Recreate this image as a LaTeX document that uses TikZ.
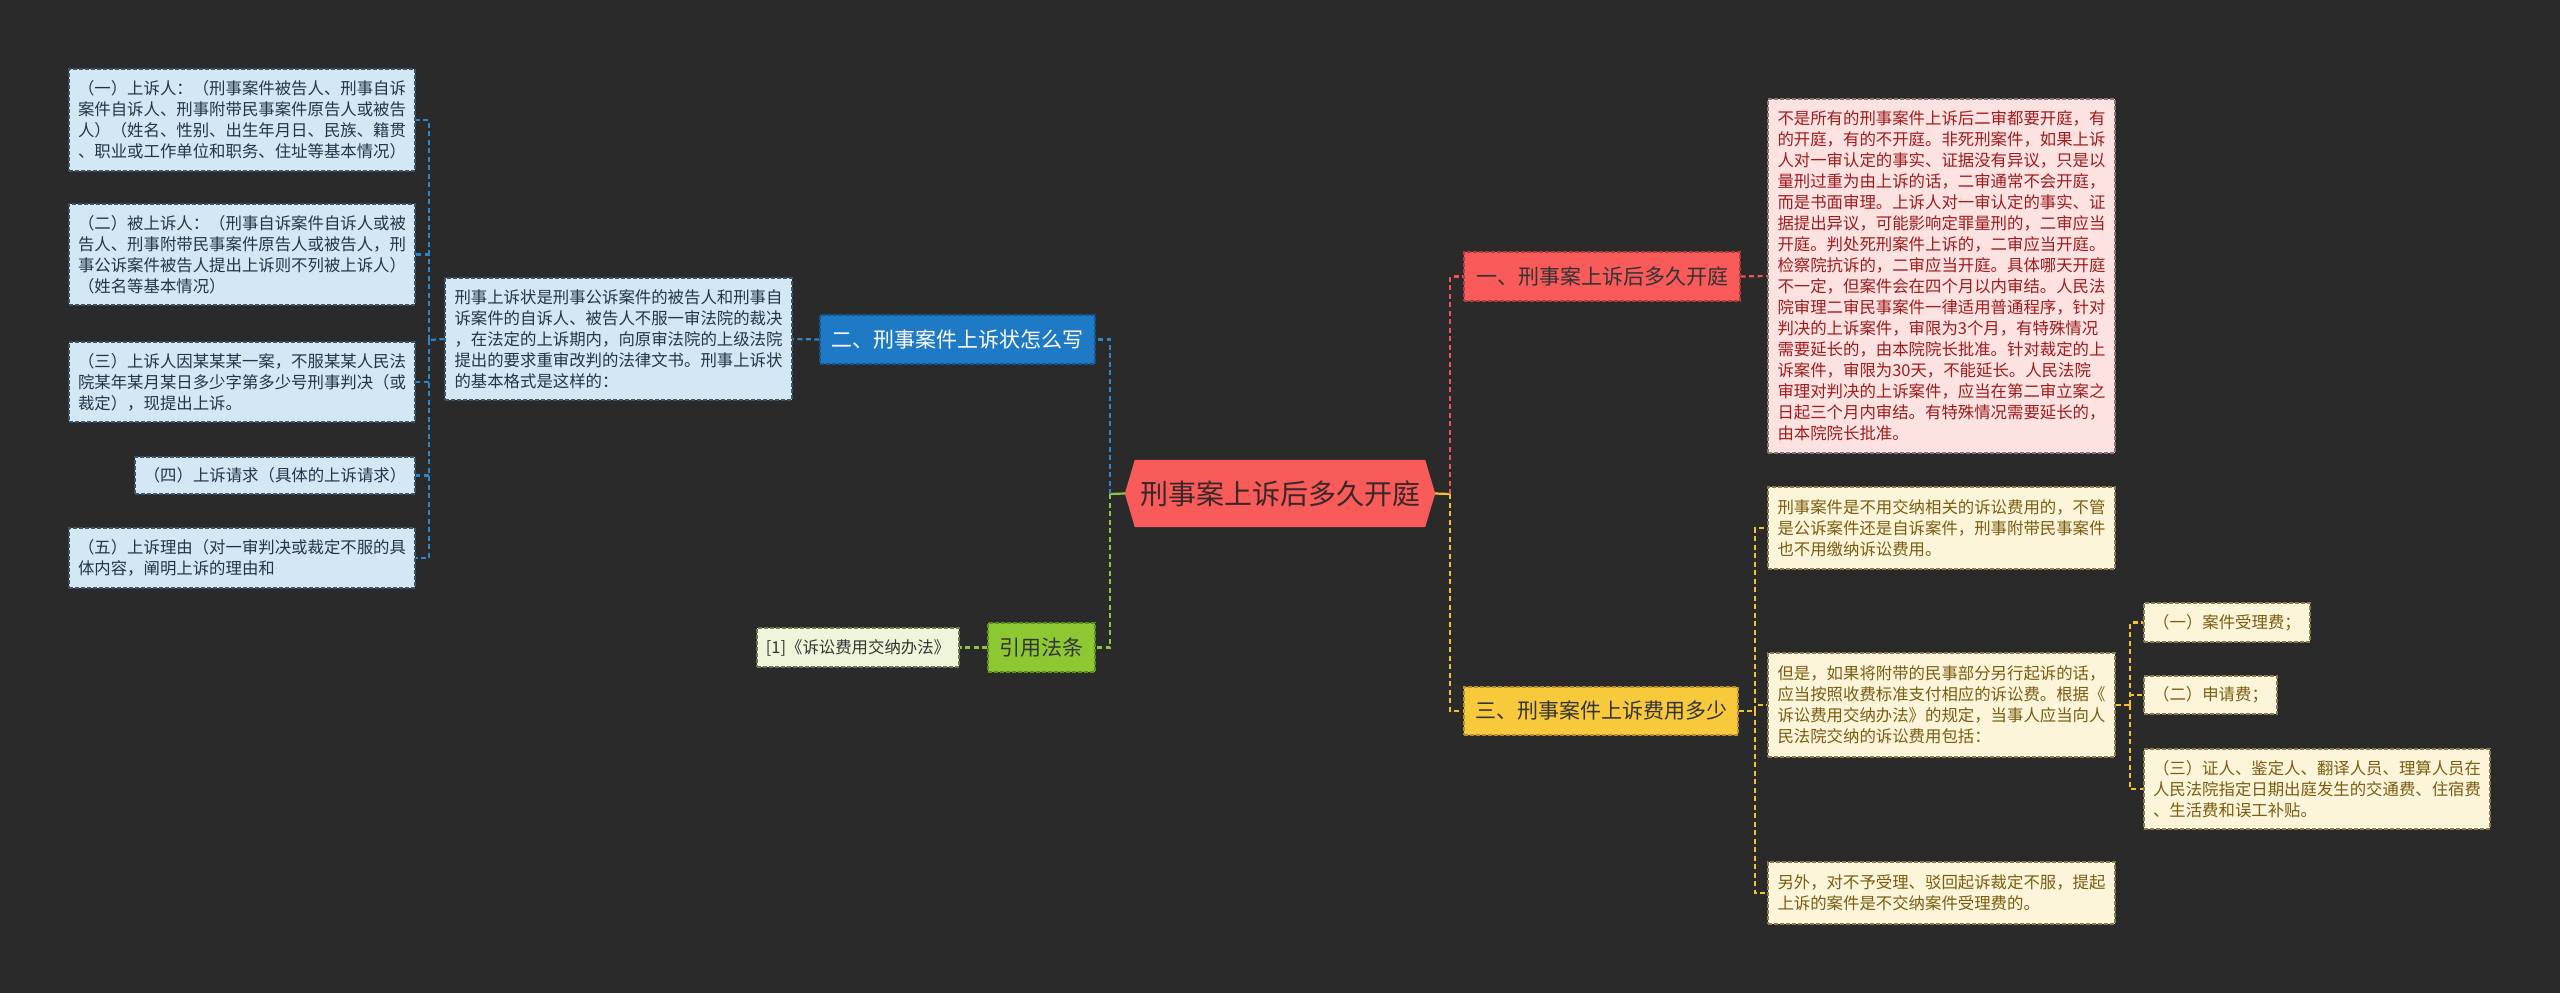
\documentclass[tikz,border=0pt]{standalone}
\usepackage{fontspec}
\setmainfont{Noto Sans CJK SC}
\usetikzlibrary{backgrounds}
\definecolor{bg}{HTML}{2A2A2A}
\definecolor{rootfill}{HTML}{F95A5A}
\definecolor{roottext}{HTML}{3A2828}
\definecolor{redfill}{HTML}{F95A5A}
\definecolor{redbord}{HTML}{B03C3C}
\definecolor{pinkfill}{HTML}{FDE2E2}
\definecolor{pinktext}{HTML}{9E1C1C}
\definecolor{pinkbord}{HTML}{8A7474}
\definecolor{bluefill}{HTML}{1F7AC5}
\definecolor{bluebord}{HTML}{14558E}
\definecolor{bitemfill}{HTML}{D4E7F5}
\definecolor{bitemtext}{HTML}{22364A}
\definecolor{bitembord}{HTML}{3C5468}
\definecolor{greenfill}{HTML}{8CC832}
\definecolor{greenbord}{HTML}{5E8E1E}
\definecolor{citefill}{HTML}{EDF5DA}
\definecolor{citebord}{HTML}{6A7A50}
\definecolor{yelfill}{HTML}{F9C93C}
\definecolor{yelbord}{HTML}{B8902A}
\definecolor{yitemfill}{HTML}{FDF5DA}
\definecolor{yitemtext}{HTML}{7A5C12}
\definecolor{yitembord}{HTML}{8A7A50}
\definecolor{darktext}{HTML}{333333}
\definecolor{lblue}{HTML}{2E86C8}
\definecolor{lred}{HTML}{E8555A}
\definecolor{lyellow}{HTML}{F2C12E}
\definecolor{lgreen}{HTML}{8DC63F}
\begin{document}
\begin{tikzpicture}[x=1pt,y=-1pt,
  box/.style={rectangle, draw, dash pattern=on 4pt off 2pt, line width=1.1pt, inner sep=0pt, align=left, anchor=center},
  smallf/.style={font=\fontsize{16.4pt}{21pt}\selectfont},
  headf/.style={font=\fontsize{21pt}{26pt}\selectfont},
  bitem/.style={box, smallf, fill=bitemfill, draw=bitembord, text=bitemtext},
  pitem/.style={box, smallf, fill=pinkfill, draw=pinkbord, text=pinktext},
  yitem/.style={box, smallf, fill=yitemfill, draw=yitembord, text=yitemtext},
  citem/.style={box, smallf, fill=citefill, draw=citebord, text=darktext},
  redhead/.style={box, headf, fill=redfill, draw=redbord, text=darktext},
  bluehead/.style={box, headf, fill=bluefill, draw=bluebord, text=white},
  greenhead/.style={box, headf, fill=greenfill, draw=greenbord, text=darktext},
  yelhead/.style={box, headf, fill=yelfill, draw=yelbord, text=darktext},
  conn/.style={line width=2.2pt, dash pattern=on 5pt off 3.5pt},
  bline/.style={conn, draw=lblue},
  rline/.style={conn, draw=lred},
  yline/.style={conn, draw=lyellow},
  gline/.style={conn, draw=lgreen},
]
\useasboundingbox (0,0) rectangle (2560,993);
\begin{scope}[on background layer]
\fill[bg] (0,0) rectangle (2560,993);
\end{scope}

% root
\node[inner sep=0pt, minimum width=310pt, minimum height=67pt, text=roottext,
  font=\fontsize{28pt}{32pt}\selectfont] (root) at (1280,493.5) {刑事案上诉后多久开庭};
\begin{scope}[on background layer]
\fill[rootfill] (root.west) -- ([xshift=10pt]root.north west) -- ([xshift=-10pt]root.north east)
  -- (root.east) -- ([xshift=-10pt]root.south east) -- ([xshift=10pt]root.south west) -- cycle;
\end{scope}

% branch 1 (red)
\node[redhead, minimum width=276pt, minimum height=49pt] (red1) at (1602,276.5) {一、刑事案上诉后多久开庭};
\node[pitem, minimum width=347pt, minimum height=354pt] (pink) at (1941.5,276) {不是所有的刑事案件上诉后二审都要开庭，有\\的开庭，有的不开庭。非死刑案件，如果上诉\\人对一审认定的事实、证据没有异议，只是以\\量刑过重为由上诉的话，二审通常不会开庭，\\而是书面审理。上诉人对一审认定的事实、证\\据提出异议，可能影响定罪量刑的，二审应当\\开庭。判处死刑案件上诉的，二审应当开庭。\\检察院抗诉的，二审应当开庭。具体哪天开庭\\不一定，但案件会在四个月以内审结。人民法\\院审理二审民事案件一律适用普通程序，针对\\判决的上诉案件，审限为3个月，有特殊情况\\需要延长的，由本院院长批准。针对裁定的上\\诉案件，审限为30天，不能延长。人民法院\\审理对判决的上诉案件，应当在第二审立案之\\日起三个月内审结。有特殊情况需要延长的，\\由本院院长批准。};

% branch 2 (blue)
\node[bluehead, minimum width=275pt, minimum height=49pt] (blue2) at (957.5,339.5) {二、刑事案件上诉状怎么写};
\node[bitem, minimum width=347pt, minimum height=122pt] (desc) at (618.5,339) {刑事上诉状是刑事公诉案件的被告人和刑事自\\诉案件的自诉人、被告人不服一审法院的裁决\\，在法定的上诉期内，向原审法院的上级法院\\提出的要求重审改判的法律文书。刑事上诉状\\的基本格式是这样的：};
\node[bitem, minimum width=346pt, minimum height=102pt] (i1) at (242,120) {（一）上诉人：（刑事案件被告人、刑事自诉\\案件自诉人、刑事附带民事案件原告人或被告\\人）（姓名、性别、出生年月日、民族、籍贯\\、职业或工作单位和职务、住址等基本情况）};
\node[bitem, minimum width=346pt, minimum height=101pt] (i2) at (242,254.5) {（二）被上诉人：（刑事自诉案件自诉人或被\\告人、刑事附带民事案件原告人或被告人，刑\\事公诉案件被告人提出上诉则不列被上诉人）\\（姓名等基本情况）};
\node[bitem, minimum width=346pt, minimum height=80pt] (i3) at (242,382) {（三）上诉人因某某某一案，不服某某人民法\\院某年某月某日多少字第多少号刑事判决（或\\裁定），现提出上诉。};
\node[bitem, minimum width=280pt, minimum height=37pt] (i4) at (275,475.5) {（四）上诉请求（具体的上诉请求）};
\node[bitem, minimum width=346pt, minimum height=60pt] (i5) at (242,558) {（五）上诉理由（对一审判决或裁定不服的具\\体内容，阐明上诉的理由和};

% branch 4 (green)
\node[greenhead, minimum width=107pt, minimum height=49pt] (green) at (1041.5,647.5) {引用法条};
\node[citem, minimum width=202pt, minimum height=39pt] (cite) at (858,647.5) {[1]《诉讼费用交纳办法》};

% branch 3 (yellow)
\node[yelhead, minimum width=274pt, minimum height=48pt] (yel3) at (1601,711) {三、刑事案件上诉费用多少};
\node[yitem, minimum width=347pt, minimum height=82pt] (yA) at (1941.5,528) {刑事案件是不用交纳相关的诉讼费用的，不管\\是公诉案件还是自诉案件，刑事附带民事案件\\也不用缴纳诉讼费用。};
\node[yitem, minimum width=347pt, minimum height=104pt] (yB) at (1941.5,705) {但是，如果将附带的民事部分另行起诉的话，\\应当按照收费标准支付相应的诉讼费。根据《\\诉讼费用交纳办法》的规定，当事人应当向人\\民法院交纳的诉讼费用包括：};
\node[yitem, minimum width=347pt, minimum height=62pt] (yC) at (1941.5,893) {另外，对不予受理、驳回起诉裁定不服，提起\\上诉的案件是不交纳案件受理费的。};
\node[yitem, minimum width=166pt, minimum height=39pt] (s1) at (2227,622.5) {（一）案件受理费；};
\node[yitem, minimum width=133pt, minimum height=38pt] (s2) at (2210.5,695) {（二）申请费；};
\node[yitem, minimum width=346pt, minimum height=80pt] (s3) at (2317,789) {（三）证人、鉴定人、翻译人员、理算人员在\\人民法院指定日期出庭发生的交通费、住宿费\\、生活费和误工补贴。};

% junctions
\coordinate (lj) at (1110,494);
\coordinate (rj) at (1450,494);
\coordinate (dj) at (429,340);
\coordinate (yj) at (1755,711);
\coordinate (sj) at (2130,705);

% connectors
\draw[lgreen, line width=2.2pt] (root.west) -- (lj);
\draw[lyellow, line width=2.2pt] (root.east) -- (rj);
\draw[bline] (lj) |- (blue2.east);
\draw[gline] (lj) |- (green.east);
\draw[rline] (rj) |- (red1.west);
\draw[yline] (rj) |- (yel3.west);
\draw[rline] (red1.east) -- (pink.west);
\draw[bline] (blue2.west) -- (desc.east);
\draw[bline] (desc.west) -- (dj);
\draw[bline] (dj) |- (i1.east);
\draw[bline] (dj) |- (i2.east);
\draw[bline] (dj) |- (i3.east);
\draw[bline] (dj) |- (i4.east);
\draw[bline] (dj) |- (i5.east);
\draw[gline] (green.west) -- (cite.east);
\draw[yline] (yel3.east) -- (yj);
\draw[yline] (yj) |- (yA.west);
\draw[yline] (yj) |- (yB.west);
\draw[yline] (yj) |- (yC.west);
\draw[yline] (yB.east) -- (sj);
\draw[yline] (sj) |- (s1.west);
\draw[yline] (sj) |- (s2.west);
\draw[yline] (sj) |- (s3.west);
\end{tikzpicture}
\end{document}
